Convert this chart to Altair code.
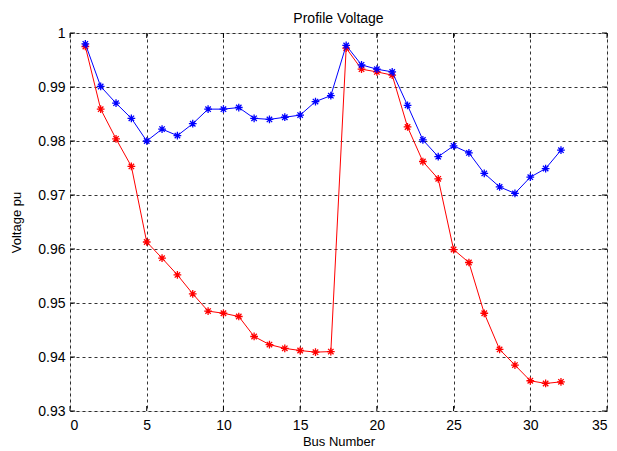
import altair as alt
import pandas as pd

bus = list(range(1, 33))
v_blue = [0.9980, 0.9901, 0.9870, 0.9842, 0.9800, 0.9822, 0.9810, 0.9832,
          0.9859, 0.9859, 0.9862, 0.9842, 0.9840, 0.9844, 0.9848, 0.9873,
          0.9884, 0.9977, 0.9941, 0.9933, 0.9928, 0.9866, 0.9802, 0.9771,
          0.9791, 0.9778, 0.9740, 0.9715, 0.9703, 0.9733, 0.9749, 0.9783]
v_red = [0.9975, 0.9859, 0.9804, 0.9753, 0.9613, 0.9583, 0.9552, 0.9517,
         0.9485, 0.9481, 0.9475, 0.9438, 0.9423, 0.9416, 0.9412, 0.9409,
         0.9410, 0.9972, 0.9933, 0.9928, 0.9922, 0.9826, 0.9762, 0.9730,
         0.9599, 0.9575, 0.9481, 0.9414, 0.9385, 0.9356, 0.9351, 0.9354]
x_ticks = [0, 5, 10, 15, 20, 25, 30, 35]
y_ticks = [0.93, 0.94, 0.95, 0.96, 0.97, 0.98, 0.99, 1.0]

W, H = 537, 378
FONT = "Liberation Sans"

df_b = pd.DataFrame({"bus": bus, "v": v_blue})
df_r = pd.DataFrame({"bus": bus, "v": v_red})
df_xt = pd.DataFrame({"t": x_ticks})
df_yt = pd.DataFrame({"t": y_ticks})

xs = alt.Scale(domain=[0, 35], nice=False, zero=False)
ys = alt.Scale(domain=[0.93, 1.0], nice=False, zero=False)

xax = alt.Axis(values=x_ticks, grid=True, gridDash=[3, 3], gridColor="#000000",
               gridOpacity=0.8, ticks=False, labelPadding=7, domain=False,
               labelFont=FONT, labelFontSize=14, labelColor="#000000",
               title="Bus Number", titleFont=FONT, titleFontSize=13,
               titleFontWeight="normal", titleColor="#000000", titlePadding=3)
yax = alt.Axis(values=y_ticks, grid=True, gridDash=[3, 3], gridColor="#000000",
               gridOpacity=0.8, ticks=False, labelPadding=5, domain=False,
               labelFont=FONT, labelFontSize=14, labelColor="#000000",
               labelExpr="datum.value == 1 ? '1' : format(datum.value, '.2f')",
               title="Voltage pu", titleFont=FONT, titleFontSize=13,
               titleFontWeight="normal", titleColor="#000000", titlePadding=14)

star = "M-1,0L1,0M0,-1L0,1M-0.7,-0.7L0.7,0.7M-0.7,0.7L0.7,-0.7"

base_axes = alt.Chart(df_b).mark_point(opacity=0).encode(
    x=alt.X("bus:Q", scale=xs, axis=xax),
    y=alt.Y("v:Q", scale=ys, axis=yax),
)

def series(df, color):
    line = alt.Chart(df).mark_line(color=color, strokeWidth=1).encode(
        x=alt.X("bus:Q", scale=xs), y=alt.Y("v:Q", scale=ys))
    pts = alt.Chart(df).mark_point(shape=star, color=color, filled=False,
                                   size=60, strokeWidth=1.3, opacity=1).encode(
        x=alt.X("bus:Q", scale=xs), y=alt.Y("v:Q", scale=ys))
    return line + pts

L = 5
xt_bot = alt.Chart(df_xt).mark_rule(color="black", strokeWidth=1).encode(
    x=alt.X("t:Q", scale=xs), y=alt.value(H), y2=alt.value(H - L))
xt_top = alt.Chart(df_xt).mark_rule(color="black", strokeWidth=1).encode(
    x=alt.X("t:Q", scale=xs), y=alt.value(0), y2=alt.value(L))
yt_left = alt.Chart(df_yt).mark_rule(color="black", strokeWidth=1).encode(
    y=alt.Y("t:Q", scale=ys), x=alt.value(0), x2=alt.value(L))
yt_right = alt.Chart(df_yt).mark_rule(color="black", strokeWidth=1).encode(
    y=alt.Y("t:Q", scale=ys), x=alt.value(W), x2=alt.value(W - L))

chart = alt.layer(
    base_axes, xt_bot, xt_top, yt_left, yt_right,
    series(df_r, "#ff0000"), series(df_b, "#0000ff"),
).properties(
    width=W, height=H,
    title=alt.TitleParams("Profile Voltage", font=FONT, fontSize=14,
                          fontWeight="normal", color="#000000", offset=0),
    padding={"left": 2, "top": 4, "right": 0, "bottom": 0},
).configure_view(
    stroke="#000000", strokeWidth=1
).configure(background="white")

chart.save("out.html", embed_options={"renderer": "svg", "actions": False})
